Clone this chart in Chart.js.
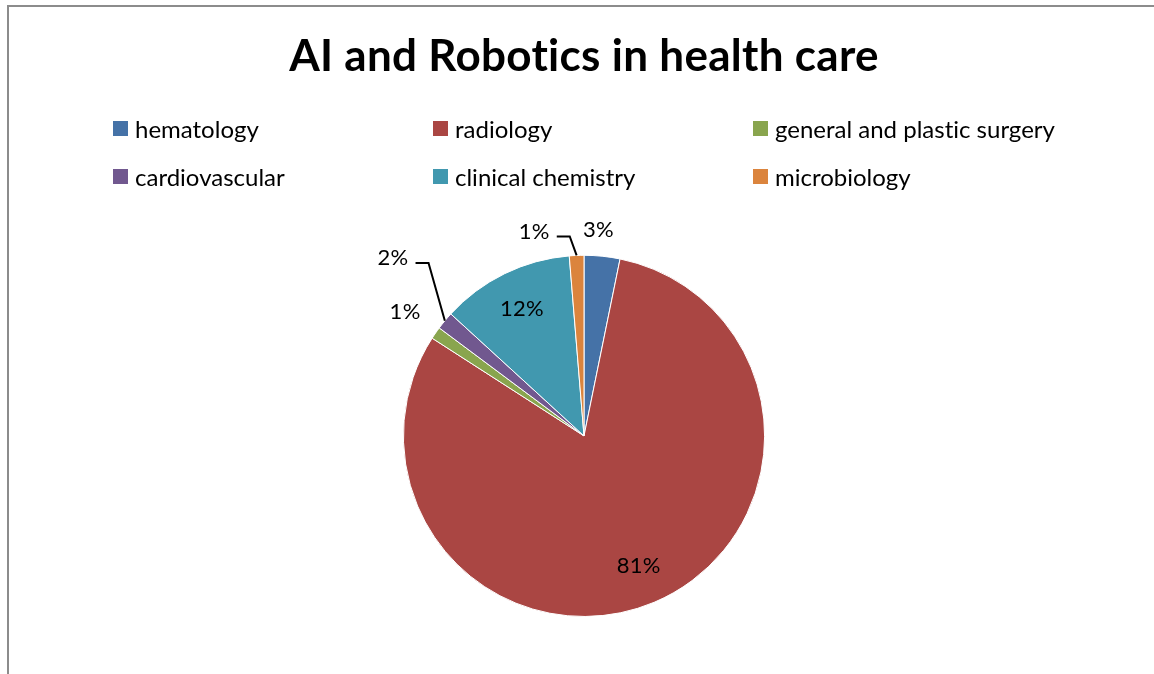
<!DOCTYPE html>
<html>
<head>
<meta charset="utf-8">
<script src="https://cdn.jsdelivr.net/npm/chart.js@4"></script>
<style>
  html, body { margin: 0; padding: 0; background: #fff; }
  #wrap { position: relative; width: 1154px; height: 674px; overflow: hidden; }
  #frame { position: absolute; left: 7px; top: 5px; right: -10px; bottom: -10px;
    border-left: 2px solid #8c8c8c; border-top: 2px solid #8c8c8c; }
  #chart { position: absolute; left: 0; top: 0; }
  #legend { position: absolute; left: 113px; top: 114px; width: 960px;
    display: grid; grid-template-columns: 320px 320px 320px; grid-auto-rows: 48px;
    font-family: Lato, "Open Sans", sans-serif; font-size: 24px; color: #000;
    font-variant-ligatures: none; }
  .item { display: flex; align-items: center; height: 28px; }
  .swatch { width: 15px; height: 15px; margin-right: 7px; flex: none; }
</style>
</head>
<body>
<div id="wrap">
  <div id="frame"></div>
  <canvas id="chart" width="1154" height="674"></canvas>
  <div id="legend"></div>
</div>
<script>
const categories = ["hematology", "radiology", "general and plastic surgery", "cardiovascular", "clinical chemistry", "microbiology"];
const values = [3.2, 80.9, 1.1, 1.6, 11.9, 1.3];
const colors = ["#4572A7", "#AA4643", "#89A54E", "#71588F", "#4198AF", "#DB843D"];

// outside labels nudged the way Excel placed them; some get a leader line
const labelShifts = { 0: [-7, 2], 2: [-3, -5], 3: [-26, -45], 5: [-41, 4] };
const leaderSlices = [3, 5];

const sliceLabels = {
  id: "sliceLabels",
  beforeDraw(chart) {
    // wider tracking, also stops the "ti" ligature in the title
    chart.ctx.letterSpacing = "0.3px";
  },
  afterDatasetsDraw(chart) {
    const ctx = chart.ctx;
    const meta = chart.getDatasetMeta(0);
    const total = values.reduce((a, b) => a + b, 0);
    ctx.save();
    ctx.font = "22px Lato, 'Open Sans', sans-serif";
    ctx.fillStyle = "#000";
    ctx.strokeStyle = "#000";
    ctx.lineWidth = 2;
    ctx.textAlign = "center";
    ctx.textBaseline = "middle";
    meta.data.forEach((arc, i) => {
      const p = arc.getProps(["x", "y", "startAngle", "endAngle", "outerRadius"], true);
      const mid = (p.startAngle + p.endAngle) / 2;
      const share = values[i] / total;
      const text = Math.round(share * 100) + "%";
      const cos = Math.cos(mid), sin = Math.sin(mid);
      if (share > 0.05) {
        const r = p.outerRadius * 0.78;
        ctx.fillText(text, p.x + cos * r, p.y + sin * r);
        return;
      }
      const halfW = ctx.measureText(text).width / 2;
      const r = p.outerRadius + 18;
      let tx = p.x + cos * r + halfW * cos;
      let ty = p.y + sin * r + 10 * sin;
      const shift = labelShifts[i];
      if (shift) {
        tx += shift[0];
        ty += shift[1];
      }
      if (leaderSlices.includes(i)) {
        const ex = p.x + cos * p.outerRadius;
        const ey = p.y + sin * p.outerRadius;
        const hx = tx + halfW + 7;
        const ly = ty + 5;
        ctx.beginPath();
        ctx.moveTo(ex, ey);
        ctx.lineTo(hx + 13, ly);
        ctx.lineTo(hx, ly);
        ctx.stroke();
      }
      ctx.fillText(text, tx, ty);
    });
    ctx.restore();
  }
};

const legendNode = document.getElementById("legend");
categories.forEach((name, i) => {
  const item = document.createElement("div");
  item.className = "item";
  item.innerHTML = `<span class="swatch" style="background:${colors[i]}"></span><span>${name}</span>`;
  legendNode.appendChild(item);
});

new Chart(document.getElementById("chart"), {
  type: "pie",
  data: {
    labels: categories,
    datasets: [{
      data: values,
      backgroundColor: colors,
      borderColor: "#ffffff",
      borderWidth: 1
    }]
  },
  options: {
    responsive: false,
    animation: false,
    layout: { padding: { top: 0, bottom: 57, left: 20, right: 6 } },
    plugins: {
      legend: { display: false },
      tooltip: { enabled: false },
      title: {
        display: true,
        text: "AI and Robotics in health care",
        color: "#000",
        font: { family: "Lato, 'Open Sans', sans-serif", size: 44, weight: "bold", lineHeight: 1.2 },
        padding: { top: 30, bottom: 172 }
      }
    }
  },
  plugins: [sliceLabels]
});
</script>
</body>
</html>
